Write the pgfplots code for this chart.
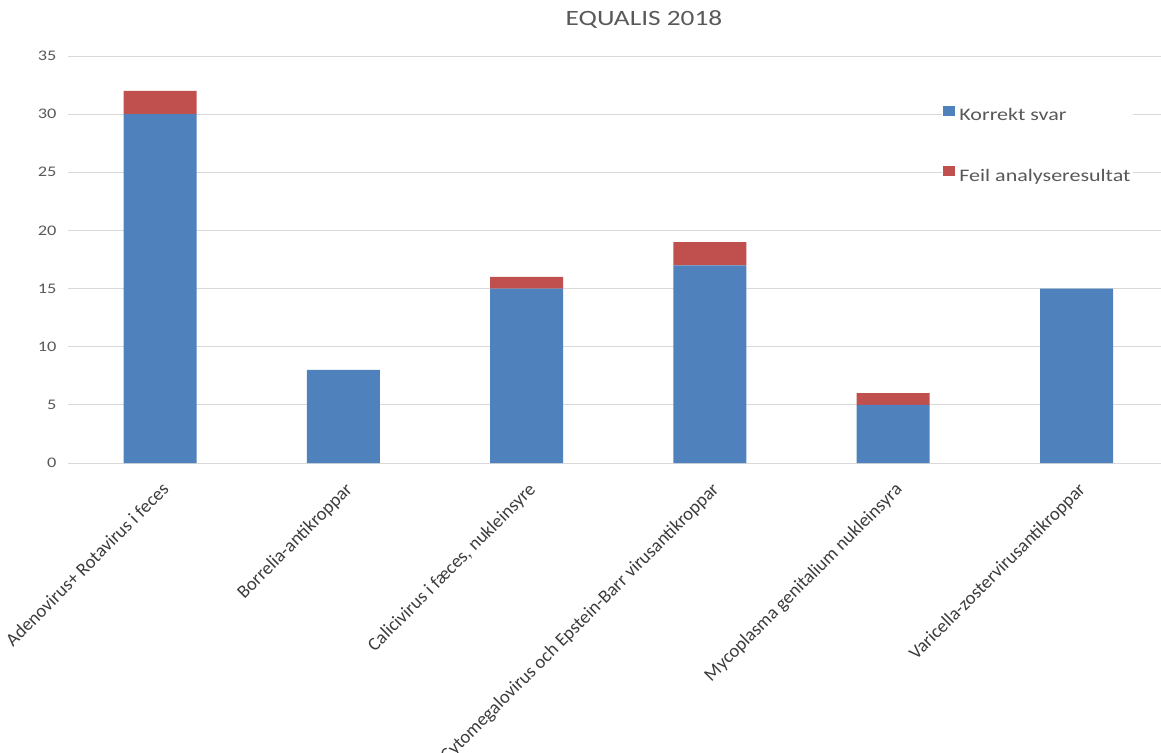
\documentclass[border=0pt]{standalone}
\usepackage{pgfplots}
\pgfplotsset{compat=1.18}
\usepackage{pgfplotstable}
\usetikzlibrary{calc}
\usepackage{fontspec}
\setmainfont{Carlito}
\newfontfamily\wide[FakeStretch=1.25]{Carlito}
\definecolor{barblue}{HTML}{4F81BD}
\definecolor{barred}{HTML}{C0504D}
\definecolor{gridc}{HTML}{D9D9D9}
\definecolor{txt}{HTML}{595959}
\definecolor{xtxt}{HTML}{3C3C3C}

\pgfplotstableread{
x korrekt feil
0 30 2
1 8 0
2 15 1
3 17 2
4 5 1
5 15 0
}\datatable

\begin{document}
\begin{tikzpicture}[x=0.75pt,y=0.75pt]
\begin{axis}[
  anchor=south west,
  scale only axis, width=819.75pt, height=305.25pt,
  xmin=-0.502, xmax=5.461, ymin=0, ymax=35,
  ybar stacked, bar width=54.75pt,
  axis line style={draw=none},
  major tick length=0pt,
  ytick={0,5,...,35},
  ymajorgrids, grid style={color=gridc, line width=0.75pt},
  /pgf/number format/assume math mode=true,
  yticklabel style={anchor=east, inner sep=0pt, xshift=-8.5pt, font=\wide\fontsize{11}{13}\selectfont, text=txt},
  xtick=data,
  xticklabels={Adenovirus+ Rotavirus i feces, Borrelia-antikroppar, {Calicivirus i fæces, nukleinsyre}, Cytomegalovirus och Epstein-Barr virusantikroppar, Mycoplasma genitalium nukleinsyra, Varicella-zostervirusantikroppar},
  xticklabel style={yshift=-13.5pt, xshift=0.5pt, anchor=north east, rotate=45, inner sep=0pt, font=\fontsize{14}{16}\selectfont, text=xtxt},
  title={EQUALIS 2018},
  title style={at={(0.527,1.069)}, anchor=center, font=\wide\fontsize{16.4}{19}\selectfont, text=txt},
  legend style={at={(0.799,0.882)}, anchor=north west, draw=none, fill=white,
    font=\wide\fontsize{13.2}{15}\selectfont, text=txt,
    row sep=30pt, inner sep=1pt,
    /tikz/every odd column/.append style={column sep=2pt},
    nodes={text height=9pt, text depth=3pt, inner sep=1pt}},
  legend cell align=left,
  legend image code/.code={\fill[#1] (0pt,0.5pt) rectangle (9.4pt,8.3pt);},
]
\addplot[fill=barblue, draw=none] table[x=x, y=korrekt] {\datatable};
\addplot[fill=barred, draw=none] table[x=x, y=feil] {\datatable};
\legend{Korrekt svar, Feil analyseresultat}
\coordinate (sw) at (rel axis cs:0,0);
\end{axis}
\pgfresetboundingbox
\path[use as bounding box] ($(sw)+(-68,-290)$) rectangle ($(sw)+(1093,463)$);
\end{tikzpicture}
\end{document}
